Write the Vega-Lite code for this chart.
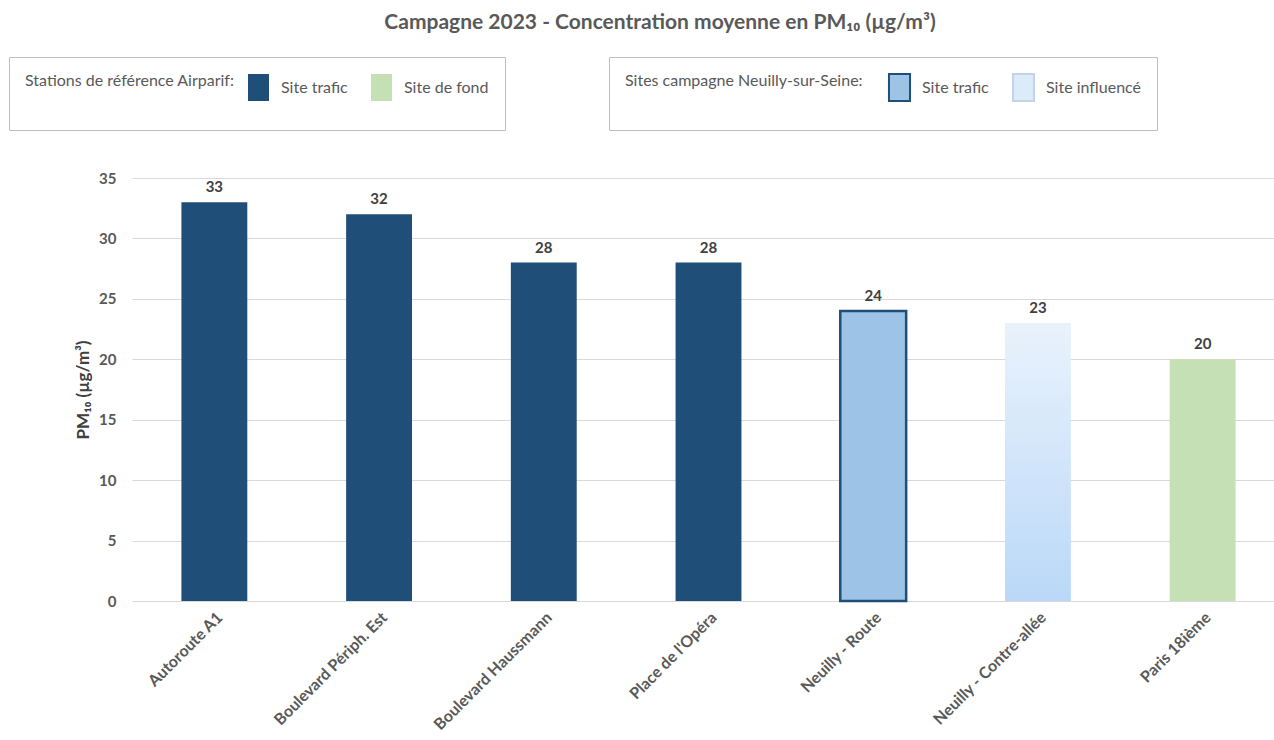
{
  "$schema": "https://vega.github.io/schema/vega-lite/v6.json",
  "width": 1142,
  "height": 423,
  "autosize": "none",
  "padding": {"left": 132, "top": 178, "right": 0, "bottom": 139},
  "background": "white",
  "title": {
    "text": "Campagne 2023 - Concentration moyenne en PM₁₀ (µg/m³)",
    "anchor": "middle",
    "frame": "group",
    "dx": -43,
    "offset": 24,
    "font": "Lato",
    "fontSize": 21,
    "fontWeight": "bold",
    "color": "#595959"
  },
  "data": {
    "values": [
      {"station": "Autoroute A1", "value": 33, "group": "Airparif", "type": "Site trafic"},
      {"station": "Boulevard Périph. Est", "value": 32, "group": "Airparif", "type": "Site trafic"},
      {"station": "Boulevard Haussmann", "value": 28, "group": "Airparif", "type": "Site trafic"},
      {"station": "Place de l'Opéra", "value": 28, "group": "Airparif", "type": "Site trafic"},
      {"station": "Neuilly - Route", "value": 24, "group": "Neuilly", "type": "Site trafic"},
      {"station": "Neuilly - Contre-allée", "value": 23, "group": "Neuilly", "type": "Site influencé"},
      {"station": "Paris 18ième", "value": 20, "group": "Airparif", "type": "Site de fond"}
    ]
  },
  "encoding": {
    "x": {
      "field": "station",
      "type": "nominal",
      "sort": ["Autoroute A1", "Boulevard Périph. Est", "Boulevard Haussmann", "Place de l'Opéra", "Neuilly - Route", "Neuilly - Contre-allée", "Paris 18ième"],
      "scale": {"range": [0, 1153], "paddingInner": 0.6, "paddingOuter": 0.3},
      "axis": {
        "title": null,
        "labelAngle": -45,
        "labelFont": "Lato",
        "labelFontSize": 16,
        "labelFontWeight": "bold",
        "labelColor": "#595959",
        "labelPadding": 8,
        "labelLimit": 300,
        "ticks": false,
        "domain": false,
        "grid": false
      }
    },
    "y": {
      "field": "value",
      "type": "quantitative",
      "scale": {"domain": [0, 35], "nice": false},
      "axis": {
        "title": "PM₁₀ (µg/m³)",
        "titleFont": "Lato",
        "titleFontSize": 17,
        "titleFontWeight": "bold",
        "titleColor": "#404040",
        "titlePadding": 6,
        "values": [0, 5, 10, 15, 20, 25, 30, 35],
        "labelFont": "Lato",
        "labelFontSize": 15,
        "labelFontWeight": "bold",
        "labelColor": "#595959",
        "labelPadding": 16,
        "ticks": false,
        "tickSize": 0,
        "domain": false,
        "grid": true,
        "gridColor": "#D9D9D9",
        "gridWidth": 1
      }
    }
  },
  "layer": [
    {
      "transform": [{"filter": "datum.group === 'Airparif'"}],
      "mark": {"type": "bar"},
      "encoding": {
        "color": {
          "field": "type",
          "type": "nominal",
          "scale": {"domain": ["Site trafic", "Site de fond"], "range": ["#1F4E79", "#C5E0B4"]},
          "legend": {
            "title": ["Stations de référence Airparif:", "", ""],
            "orient": "none",
            "legendX": -123,
            "legendY": -121,
            "direction": "horizontal",
            "titleOrient": "left",
            "titleAnchor": "start",
            "titleBaseline": "top",
            "titleLineHeight": 12.5,
            "titlePadding": 9,
            "titleLimit": 400,
            "titleFont": "Lato",
            "titleFontSize": 16,
            "titleFontWeight": "normal",
            "titleColor": "#595959",
            "labelFont": "Lato",
            "labelFontSize": 16,
            "labelColor": "#595959",
            "labelOffset": 8,
            "columnPadding": 19,
            "padding": 16,
            "strokeColor": "#BFBFBF",
            "fillColor": "white",
            "symbolType": "M-0.78,-1H0.78V1H-0.78Z",
            "symbolSize": 729
          }
        }
      }
    },
    {
      "transform": [{"filter": "datum.station === 'Neuilly - Route'"}],
      "mark": {"type": "bar", "strokeWidth": 2.5},
      "encoding": {
        "color": {
          "field": "type",
          "type": "nominal",
          "scale": {"domain": ["Site trafic", "Site influencé"], "range": ["#9DC3E6", "#DCEBFA"]},
          "legend": {
            "title": ["Sites campagne Neuilly-sur-Seine:", "", ""],
            "orient": "none",
            "legendX": 477,
            "legendY": -121,
            "direction": "horizontal",
            "titleOrient": "left",
            "titleAnchor": "start",
            "titleBaseline": "top",
            "titleLineHeight": 12.5,
            "titlePadding": 22,
            "titleLimit": 400,
            "titleFont": "Lato",
            "titleFontSize": 16,
            "titleFontWeight": "normal",
            "titleColor": "#595959",
            "labelFont": "Lato",
            "labelFontSize": 16,
            "labelColor": "#595959",
            "labelOffset": 8,
            "columnPadding": 19,
            "padding": 16,
            "strokeColor": "#BFBFBF",
            "fillColor": "white",
            "symbolType": "M-0.78,-1H0.78V1H-0.78Z",
            "symbolSize": 729,
            "symbolStrokeWidth": 2
          }
        },
        "stroke": {
          "field": "type",
          "type": "nominal",
          "scale": {"domain": ["Site trafic", "Site influencé"], "range": ["#1F4E79", "#C2D3E6"]},
          "legend": {
            "title": ["Sites campagne Neuilly-sur-Seine:", "", ""],
            "orient": "none",
            "legendX": 477,
            "legendY": -121,
            "direction": "horizontal",
            "titleOrient": "left",
            "titleAnchor": "start",
            "titleBaseline": "top",
            "titleLineHeight": 12.5,
            "titlePadding": 22,
            "titleLimit": 400,
            "titleFont": "Lato",
            "titleFontSize": 16,
            "titleFontWeight": "normal",
            "titleColor": "#595959",
            "labelFont": "Lato",
            "labelFontSize": 16,
            "labelColor": "#595959",
            "labelOffset": 8,
            "columnPadding": 19,
            "padding": 16,
            "strokeColor": "#BFBFBF",
            "fillColor": "white",
            "symbolType": "M-0.78,-1H0.78V1H-0.78Z",
            "symbolSize": 729,
            "symbolStrokeWidth": 2
          }
        }
      }
    },
    {
      "transform": [{"filter": "datum.type === 'Site influencé'"}],
      "mark": {
        "type": "bar",
        "fill": {
          "gradient": "linear",
          "x1": 0, "y1": 0, "x2": 0, "y2": 1,
          "stops": [
            {"offset": 0, "color": "#E9F2FC"},
            {"offset": 1, "color": "#BAD8F8"}
          ]
        }
      }
    },
    {
      "mark": {
        "type": "text",
        "baseline": "bottom",
        "dy": -7,
        "font": "Lato",
        "fontSize": 15,
        "fontWeight": "bold",
        "color": "#404040"
      },
      "encoding": {
        "text": {"field": "value", "type": "quantitative"}
      }
    }
  ],
  "resolve": {
    "scale": {"color": "independent", "stroke": "independent"},
    "legend": {"color": "independent", "stroke": "independent"}
  },
  "config": {
    "view": {"stroke": null},
    "font": "Lato"
  }
}
